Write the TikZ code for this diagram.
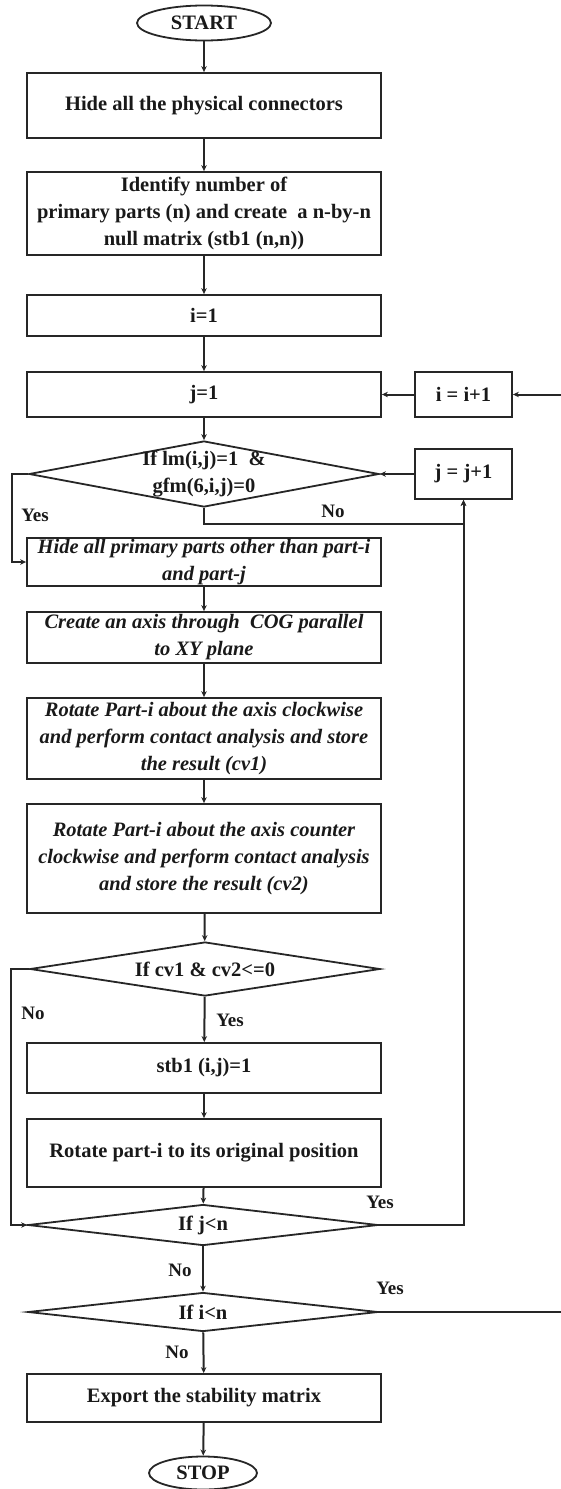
\documentclass[tikz,border=0pt]{standalone}
\usepackage{fontspec}
\setmainfont{Liberation Serif}
\usetikzlibrary{arrows.meta, shapes.geometric}

\begin{document}
\begin{tikzpicture}[x=1pt, y=-1pt,
  every node/.style={font=\fontsize{20.5}{27}\selectfont\bfseries, text=black!90},
  process/.style={draw=black!85, line width=1.8pt, minimum width=354pt, align=center, inner sep=0pt},
  slanted/.style={font=\fontsize{20.5}{27}\selectfont\bfseries\itshape},
  decision/.style={draw=black!85, diamond, line width=1.8pt, inner sep=0pt, minimum width=350pt},
  terminal/.style={draw=black!85, ellipse, line width=1.8pt, inner sep=0pt},
  answer/.style={font=\fontsize{19}{22}\selectfont\bfseries},
  arr/.style={-{Stealth[length=6pt,width=5.5pt]}, line width=2pt, draw=black!85}]

  \useasboundingbox (0,0) rectangle (560,1489);

  % column x of the main flow
  \def\cx{204}

  % start and first steps
  \node[terminal, minimum width=134pt, minimum height=35pt] (start) at (\cx,23) {START};
  \node[process, minimum height=65pt] (hide) at (\cx,105.5) {Hide all the physical connectors};
  \node[process, minimum height=83pt] (ident) at (\cx,213.5)
    {Identify number of\\primary parts (n) and create\ \ a n-by-n\\null matrix (stb1 (n,n))};
  \node[process, minimum height=41pt] (iset) at (\cx,315.5) {i=1};
  \node[process, minimum height=45pt] (jset) at (\cx,394.5) {j=1};

  % counters on the right
  \node[process, minimum width=97pt, minimum height=45pt] (iinc) at (463.5,394.5) {i = i+1};
  \node[process, minimum width=97pt, minimum height=50pt] (jinc) at (463.5,474) {j = j+1};

  % first test
  \node[decision, minimum height=66pt,
        label={[align=center]center:If lm(i,j)=1\ \ \&\\gfm(6,i,j)=0}] (lmchk) at (\cx,474) {};

  % contact analysis
  \node[process, slanted, minimum height=48pt] (isolate) at (\cx,562)
    {Hide all primary parts other than part-i\\and part-j};
  \node[process, slanted, minimum height=51pt] (axis) at (\cx,637.5)
    {Create an axis through\ \ COG parallel\\to XY plane};
  \node[process, slanted, minimum height=81pt] (rotcw) at (\cx,738.5)
    {Rotate Part-i about the axis clockwise\\and perform contact analysis and store\\the result (cv1)};
  \node[process, slanted, minimum height=109pt] (rotccw) at (\cx,858.5)
    {Rotate Part-i about the axis counter\\clockwise and perform contact analysis\\and store the result (cv2)};

  % second test
  \node[decision, minimum height=54pt, label={center:If cv1 \& cv2<=0}] (cvchk) at (205,969) {};
  \node[process, minimum height=50pt] (stb) at (\cx,1068) {stb1 (i,j)=1};
  \node[process, minimum height=68pt] (rotback) at (\cx,1153) {Rotate part-i to its original position};

  % loop tests
  \node[decision, minimum height=41pt, label={center:If j<n}] (jchk) at (203,1225) {};
  \node[decision, minimum height=39pt, label={center:If i<n}] (ichk) at (203,1312) {};

  \node[process, minimum height=48pt] (export) at (\cx,1398) {Export the stability matrix};
  \node[terminal, minimum width=108pt, minimum height=33pt] (stop) at (203,1473) {STOP};

  % main column
  \draw[arr] (start) -- (hide);
  \draw[arr] (hide) -- (ident);
  \draw[arr] (ident) -- (iset);
  \draw[arr] (iset) -- (jset);
  \draw[arr] (jset) -- (lmchk);
  \draw[arr] (isolate) -- (axis);
  \draw[arr] (axis) -- (rotcw);
  \draw[arr] (rotcw) -- (rotccw);
  \draw[arr] (rotccw) -- (cvchk);
  \draw[arr] (cvchk) -- (stb);
  \draw[arr] (stb) -- (rotback);
  \draw[arr] (rotback) -- (jchk);
  \draw[arr] (jchk) -- (ichk);
  \draw[arr] (ichk) -- (export);
  \draw[arr] (export) -- (stop);

  % branches
  \draw[arr] (lmchk.west) -- ++(-16,0) |- (isolate.west);
  \draw[arr] (lmchk.south) -- ++(0,16) -| (jinc.south);
  \draw[arr] (jinc) -- (lmchk.east);
  \draw[arr] (iinc) -- (jset);
  \draw[arr] (cvchk.west) -- ++(-18,0) |- (jchk.west);
  \draw[arr] (jchk.east) -| (jinc.south);

  % i loop leaves the page on the right
  \coordinate (edge) at (566,1312);
  \draw[arr] (ichk.east) -- (edge) |- (iinc.east);

  % answers
  \node[answer] (yes1) at (35,515) {Yes};
  \node[answer] (no1) at (333,511) {No};
  \node[answer] (no2) at (33,1013) {No};
  \node[answer] (yes2) at (230,1020) {Yes};
  \node[answer] (yes3) at (380,1202) {Yes};
  \node[answer] (no3) at (180,1270) {No};
  \node[answer] (yes4) at (390,1288) {Yes};
  \node[answer] (no4) at (177,1352) {No};
\end{tikzpicture}
\end{document}
